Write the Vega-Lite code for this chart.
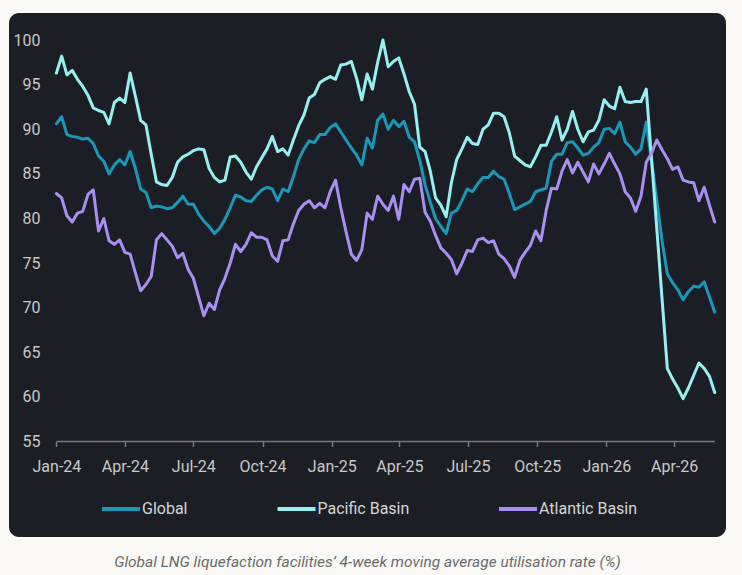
{
  "$schema": "https://vega.github.io/schema/vega-lite/v6.json",
  "width": 717,
  "height": 524,
  "autosize": {"type": "none"},
  "padding": {"left": 9, "top": 13, "right": 16, "bottom": 38},
  "background": "#faf9f6",
  "config": {
    "view": {"fill": "#1c1e25", "stroke": null, "cornerRadius": 10},
    "font": "Roboto",
    "axisX": {
      "title": null,
      "domain": false,
      "grid": false,
      "tickSize": 5,
      "tickColor": "#7a7a7a",
      "tickWidth": 1.5,
      "labelPadding": 11.5,
      "labelFontSize": 16,
      "labelColor": "#c8c8c8",
      "labelFont": "Roboto"
    },
    "axisY": {
      "title": null,
      "domain": false,
      "ticks": false,
      "grid": false,
      "labelPadding": 0,
      "labelFontSize": 16,
      "labelColor": "#c8c8c8",
      "labelFont": "Roboto"
    }
  },
  "title": {
    "text": "Global LNG liquefaction facilities’ 4-week moving average utilisation rate (%)",
    "orient": "bottom",
    "anchor": "middle",
    "offset": 18,
    "fontSize": 15.5,
    "fontStyle": "italic",
    "fontWeight": "normal",
    "color": "#6b6b6b",
    "font": "Roboto"
  },
  "datasets": {
    "axisline": [{"d": "2024-01-01", "e": "2026-05-25", "value": 55}],
    "util": [
      {"d": "2024-01-01", "Global": 90.6, "Pacific Basin": 96.3, "Atlantic Basin": 82.8},
      {"d": "2024-01-08", "Global": 91.4, "Pacific Basin": 98.2, "Atlantic Basin": 82.3},
      {"d": "2024-01-15", "Global": 89.4, "Pacific Basin": 96.1, "Atlantic Basin": 80.3},
      {"d": "2024-01-22", "Global": 89.2, "Pacific Basin": 96.6, "Atlantic Basin": 79.6},
      {"d": "2024-01-29", "Global": 89.1, "Pacific Basin": 95.6, "Atlantic Basin": 80.6},
      {"d": "2024-02-05", "Global": 88.9, "Pacific Basin": 94.8, "Atlantic Basin": 80.8},
      {"d": "2024-02-12", "Global": 89.0, "Pacific Basin": 93.8, "Atlantic Basin": 82.7},
      {"d": "2024-02-19", "Global": 88.4, "Pacific Basin": 92.4, "Atlantic Basin": 83.2},
      {"d": "2024-02-26", "Global": 87.0, "Pacific Basin": 92.1, "Atlantic Basin": 78.6},
      {"d": "2024-03-04", "Global": 86.4, "Pacific Basin": 91.9, "Atlantic Basin": 80.0},
      {"d": "2024-03-11", "Global": 85.0, "Pacific Basin": 90.6, "Atlantic Basin": 77.5},
      {"d": "2024-03-18", "Global": 86.0, "Pacific Basin": 93.0, "Atlantic Basin": 77.1},
      {"d": "2024-03-25", "Global": 86.6, "Pacific Basin": 93.5, "Atlantic Basin": 77.6},
      {"d": "2024-04-01", "Global": 86.0, "Pacific Basin": 93.0, "Atlantic Basin": 76.2},
      {"d": "2024-04-08", "Global": 87.5, "Pacific Basin": 96.3, "Atlantic Basin": 76.0},
      {"d": "2024-04-15", "Global": 85.6, "Pacific Basin": 93.7, "Atlantic Basin": 73.9},
      {"d": "2024-04-22", "Global": 83.3, "Pacific Basin": 91.0, "Atlantic Basin": 71.9},
      {"d": "2024-04-29", "Global": 82.9, "Pacific Basin": 90.5, "Atlantic Basin": 72.6},
      {"d": "2024-05-06", "Global": 81.2, "Pacific Basin": 87.2, "Atlantic Basin": 73.5},
      {"d": "2024-05-13", "Global": 81.4, "Pacific Basin": 84.1, "Atlantic Basin": 77.6},
      {"d": "2024-05-20", "Global": 81.3, "Pacific Basin": 83.8, "Atlantic Basin": 78.3},
      {"d": "2024-05-27", "Global": 81.1, "Pacific Basin": 83.7, "Atlantic Basin": 77.6},
      {"d": "2024-06-03", "Global": 81.2, "Pacific Basin": 84.6, "Atlantic Basin": 76.9},
      {"d": "2024-06-10", "Global": 81.8, "Pacific Basin": 86.3, "Atlantic Basin": 75.6},
      {"d": "2024-06-17", "Global": 82.5, "Pacific Basin": 86.9, "Atlantic Basin": 76.1},
      {"d": "2024-06-24", "Global": 81.6, "Pacific Basin": 87.2, "Atlantic Basin": 74.3},
      {"d": "2024-07-01", "Global": 81.6, "Pacific Basin": 87.6, "Atlantic Basin": 73.3},
      {"d": "2024-07-08", "Global": 80.5, "Pacific Basin": 87.8, "Atlantic Basin": 71.2},
      {"d": "2024-07-15", "Global": 79.7, "Pacific Basin": 87.7, "Atlantic Basin": 69.1},
      {"d": "2024-07-22", "Global": 79.1, "Pacific Basin": 85.6, "Atlantic Basin": 70.5},
      {"d": "2024-07-29", "Global": 78.3, "Pacific Basin": 84.6, "Atlantic Basin": 69.8},
      {"d": "2024-08-05", "Global": 78.9, "Pacific Basin": 84.1, "Atlantic Basin": 72.0},
      {"d": "2024-08-12", "Global": 79.9, "Pacific Basin": 84.3, "Atlantic Basin": 73.3},
      {"d": "2024-08-19", "Global": 81.2, "Pacific Basin": 86.9, "Atlantic Basin": 75.0},
      {"d": "2024-08-26", "Global": 82.6, "Pacific Basin": 87.0, "Atlantic Basin": 77.1},
      {"d": "2024-09-02", "Global": 82.4, "Pacific Basin": 86.3, "Atlantic Basin": 76.3},
      {"d": "2024-09-09", "Global": 82.0, "Pacific Basin": 85.2, "Atlantic Basin": 77.1},
      {"d": "2024-09-16", "Global": 81.9, "Pacific Basin": 84.4, "Atlantic Basin": 78.4},
      {"d": "2024-09-23", "Global": 82.6, "Pacific Basin": 85.8, "Atlantic Basin": 77.9},
      {"d": "2024-09-30", "Global": 83.2, "Pacific Basin": 86.8, "Atlantic Basin": 77.9},
      {"d": "2024-10-07", "Global": 83.5, "Pacific Basin": 87.8, "Atlantic Basin": 77.6},
      {"d": "2024-10-14", "Global": 83.3, "Pacific Basin": 89.2, "Atlantic Basin": 75.8},
      {"d": "2024-10-21", "Global": 82.0, "Pacific Basin": 87.5, "Atlantic Basin": 75.2},
      {"d": "2024-10-28", "Global": 83.3, "Pacific Basin": 87.8, "Atlantic Basin": 77.5},
      {"d": "2024-11-04", "Global": 83.0, "Pacific Basin": 87.1, "Atlantic Basin": 77.6},
      {"d": "2024-11-11", "Global": 84.7, "Pacific Basin": 88.8, "Atlantic Basin": 79.4},
      {"d": "2024-11-18", "Global": 86.6, "Pacific Basin": 90.4, "Atlantic Basin": 80.9},
      {"d": "2024-11-25", "Global": 87.8, "Pacific Basin": 91.6, "Atlantic Basin": 81.6},
      {"d": "2024-12-02", "Global": 88.7, "Pacific Basin": 93.5, "Atlantic Basin": 82.0},
      {"d": "2024-12-09", "Global": 88.5, "Pacific Basin": 93.9, "Atlantic Basin": 81.2},
      {"d": "2024-12-16", "Global": 89.4, "Pacific Basin": 95.2, "Atlantic Basin": 81.7},
      {"d": "2024-12-23", "Global": 89.4, "Pacific Basin": 95.6, "Atlantic Basin": 81.2},
      {"d": "2024-12-30", "Global": 90.2, "Pacific Basin": 95.9, "Atlantic Basin": 83.0},
      {"d": "2025-01-06", "Global": 90.6, "Pacific Basin": 95.6, "Atlantic Basin": 84.3},
      {"d": "2025-01-13", "Global": 89.7, "Pacific Basin": 97.2, "Atlantic Basin": 81.2},
      {"d": "2025-01-20", "Global": 88.8, "Pacific Basin": 97.3, "Atlantic Basin": 78.5},
      {"d": "2025-01-27", "Global": 87.9, "Pacific Basin": 97.6, "Atlantic Basin": 76.0},
      {"d": "2025-02-03", "Global": 87.1, "Pacific Basin": 95.7, "Atlantic Basin": 75.3},
      {"d": "2025-02-10", "Global": 86.0, "Pacific Basin": 93.3, "Atlantic Basin": 76.5},
      {"d": "2025-02-17", "Global": 89.0, "Pacific Basin": 96.2, "Atlantic Basin": 80.6},
      {"d": "2025-02-24", "Global": 87.9, "Pacific Basin": 94.5, "Atlantic Basin": 79.9},
      {"d": "2025-03-03", "Global": 91.0, "Pacific Basin": 97.5, "Atlantic Basin": 82.5},
      {"d": "2025-03-10", "Global": 91.7, "Pacific Basin": 100.0, "Atlantic Basin": 81.6},
      {"d": "2025-03-17", "Global": 90.0, "Pacific Basin": 97.0, "Atlantic Basin": 80.9},
      {"d": "2025-03-24", "Global": 91.0, "Pacific Basin": 97.6, "Atlantic Basin": 82.5},
      {"d": "2025-03-31", "Global": 90.3, "Pacific Basin": 98.0, "Atlantic Basin": 79.9},
      {"d": "2025-04-07", "Global": 90.9, "Pacific Basin": 96.2, "Atlantic Basin": 83.8},
      {"d": "2025-04-14", "Global": 89.1, "Pacific Basin": 94.2, "Atlantic Basin": 83.0},
      {"d": "2025-04-21", "Global": 88.6, "Pacific Basin": 92.8, "Atlantic Basin": 84.4},
      {"d": "2025-04-28", "Global": 86.5, "Pacific Basin": 88.0, "Atlantic Basin": 84.5},
      {"d": "2025-05-05", "Global": 83.8, "Pacific Basin": 87.5, "Atlantic Basin": 80.7},
      {"d": "2025-05-12", "Global": 81.8, "Pacific Basin": 85.3, "Atlantic Basin": 79.7},
      {"d": "2025-05-19", "Global": 80.0, "Pacific Basin": 82.3, "Atlantic Basin": 78.1},
      {"d": "2025-05-26", "Global": 79.1, "Pacific Basin": 81.5, "Atlantic Basin": 76.7},
      {"d": "2025-06-02", "Global": 78.3, "Pacific Basin": 80.2, "Atlantic Basin": 76.1},
      {"d": "2025-06-09", "Global": 80.6, "Pacific Basin": 84.0, "Atlantic Basin": 75.4},
      {"d": "2025-06-16", "Global": 80.9, "Pacific Basin": 86.6, "Atlantic Basin": 73.8},
      {"d": "2025-06-23", "Global": 82.0, "Pacific Basin": 87.8, "Atlantic Basin": 75.0},
      {"d": "2025-06-30", "Global": 83.3, "Pacific Basin": 89.1, "Atlantic Basin": 76.4},
      {"d": "2025-07-07", "Global": 83.0, "Pacific Basin": 88.4, "Atlantic Basin": 76.3},
      {"d": "2025-07-14", "Global": 83.9, "Pacific Basin": 88.3, "Atlantic Basin": 77.6},
      {"d": "2025-07-21", "Global": 84.6, "Pacific Basin": 90.0, "Atlantic Basin": 77.8},
      {"d": "2025-07-28", "Global": 84.6, "Pacific Basin": 90.5, "Atlantic Basin": 77.3},
      {"d": "2025-08-04", "Global": 85.3, "Pacific Basin": 91.8, "Atlantic Basin": 77.5},
      {"d": "2025-08-11", "Global": 84.7, "Pacific Basin": 91.8, "Atlantic Basin": 76.0},
      {"d": "2025-08-18", "Global": 84.4, "Pacific Basin": 91.4, "Atlantic Basin": 75.5},
      {"d": "2025-08-25", "Global": 82.8, "Pacific Basin": 89.6, "Atlantic Basin": 74.7},
      {"d": "2025-09-01", "Global": 81.0, "Pacific Basin": 87.0, "Atlantic Basin": 73.4},
      {"d": "2025-09-08", "Global": 81.3, "Pacific Basin": 86.5, "Atlantic Basin": 75.3},
      {"d": "2025-09-15", "Global": 81.6, "Pacific Basin": 86.0, "Atlantic Basin": 76.2},
      {"d": "2025-09-22", "Global": 81.9, "Pacific Basin": 85.8, "Atlantic Basin": 77.0},
      {"d": "2025-09-29", "Global": 83.0, "Pacific Basin": 86.9, "Atlantic Basin": 78.6},
      {"d": "2025-10-06", "Global": 83.2, "Pacific Basin": 88.2, "Atlantic Basin": 77.5},
      {"d": "2025-10-13", "Global": 83.4, "Pacific Basin": 88.2, "Atlantic Basin": 80.9},
      {"d": "2025-10-20", "Global": 86.4, "Pacific Basin": 89.7, "Atlantic Basin": 83.4},
      {"d": "2025-10-27", "Global": 87.2, "Pacific Basin": 91.4, "Atlantic Basin": 83.3},
      {"d": "2025-11-03", "Global": 87.2, "Pacific Basin": 88.8, "Atlantic Basin": 85.3},
      {"d": "2025-11-10", "Global": 88.5, "Pacific Basin": 90.0, "Atlantic Basin": 86.6},
      {"d": "2025-11-17", "Global": 88.6, "Pacific Basin": 92.0, "Atlantic Basin": 85.1},
      {"d": "2025-11-24", "Global": 87.9, "Pacific Basin": 90.0, "Atlantic Basin": 86.3},
      {"d": "2025-12-01", "Global": 87.1, "Pacific Basin": 88.6, "Atlantic Basin": 85.2},
      {"d": "2025-12-08", "Global": 87.3, "Pacific Basin": 89.7, "Atlantic Basin": 84.1},
      {"d": "2025-12-15", "Global": 88.0, "Pacific Basin": 89.9, "Atlantic Basin": 86.1},
      {"d": "2025-12-22", "Global": 88.5, "Pacific Basin": 91.0, "Atlantic Basin": 85.0},
      {"d": "2025-12-29", "Global": 90.0, "Pacific Basin": 93.3, "Atlantic Basin": 86.1},
      {"d": "2026-01-05", "Global": 90.1, "Pacific Basin": 92.6, "Atlantic Basin": 87.3},
      {"d": "2026-01-12", "Global": 89.5, "Pacific Basin": 92.3, "Atlantic Basin": 86.1},
      {"d": "2026-01-19", "Global": 90.8, "Pacific Basin": 94.7, "Atlantic Basin": 85.0},
      {"d": "2026-01-26", "Global": 88.6, "Pacific Basin": 93.1, "Atlantic Basin": 83.0},
      {"d": "2026-02-02", "Global": 88.0, "Pacific Basin": 93.0, "Atlantic Basin": 82.3},
      {"d": "2026-02-09", "Global": 87.2, "Pacific Basin": 93.1, "Atlantic Basin": 80.8},
      {"d": "2026-02-16", "Global": 87.8, "Pacific Basin": 93.1, "Atlantic Basin": 82.5},
      {"d": "2026-02-23", "Global": 90.8, "Pacific Basin": 94.5, "Atlantic Basin": 86.3},
      {"d": "2026-03-02", "Global": 86.5, "Pacific Basin": 86.7, "Atlantic Basin": 87.3},
      {"d": "2026-03-09", "Global": 82.0, "Pacific Basin": 78.9, "Atlantic Basin": 88.8},
      {"d": "2026-03-16", "Global": 77.5, "Pacific Basin": 71.0, "Atlantic Basin": 87.7},
      {"d": "2026-03-23", "Global": 73.8, "Pacific Basin": 63.2, "Atlantic Basin": 86.7},
      {"d": "2026-03-30", "Global": 72.8, "Pacific Basin": 62.0, "Atlantic Basin": 85.5},
      {"d": "2026-04-06", "Global": 72.0, "Pacific Basin": 61.0, "Atlantic Basin": 85.8},
      {"d": "2026-04-13", "Global": 70.9, "Pacific Basin": 59.8, "Atlantic Basin": 84.3},
      {"d": "2026-04-20", "Global": 71.8, "Pacific Basin": 61.0, "Atlantic Basin": 84.1},
      {"d": "2026-04-27", "Global": 72.4, "Pacific Basin": 62.4, "Atlantic Basin": 84.0},
      {"d": "2026-05-04", "Global": 72.3, "Pacific Basin": 63.8, "Atlantic Basin": 82.0},
      {"d": "2026-05-11", "Global": 72.9, "Pacific Basin": 63.2, "Atlantic Basin": 83.5},
      {"d": "2026-05-18", "Global": 71.2, "Pacific Basin": 62.3, "Atlantic Basin": 81.5},
      {"d": "2026-05-25", "Global": 69.5, "Pacific Basin": 60.5, "Atlantic Basin": 79.6}
    ]
  },
  "encoding": {
    "x": {
      "field": "d",
      "type": "temporal",
      "scale": {"type": "utc", "domain": [{"year": 2023, "month": 10, "date": 30, "utc": true}, {"year": 2026, "month": 6, "date": 9, "utc": true}], "nice": false},
      "axis": {
        "values": [
          {"year": 2024, "month": 1, "date": 1, "utc": true},
          {"year": 2024, "month": 4, "date": 1, "utc": true},
          {"year": 2024, "month": 7, "date": 1, "utc": true},
          {"year": 2024, "month": 10, "date": 1, "utc": true},
          {"year": 2025, "month": 1, "date": 1, "utc": true},
          {"year": 2025, "month": 4, "date": 1, "utc": true},
          {"year": 2025, "month": 7, "date": 1, "utc": true},
          {"year": 2025, "month": 10, "date": 1, "utc": true},
          {"year": 2026, "month": 1, "date": 1, "utc": true},
          {"year": 2026, "month": 4, "date": 1, "utc": true}
        ],
        "labelExpr": "utcFormat(datum.value, '%b-%y')",
        "offset": -95.5
      }
    },
    "y": {
      "field": "value",
      "type": "quantitative",
      "scale": {"domain": [44.3, 103.03], "nice": false, "zero": false},
      "axis": {
        "values": [55, 60, 65, 70, 75, 80, 85, 90, 95, 100],
        "offset": -31
      }
    }
  },
  "layer": [
    {
      "data": {"name": "util"},
      "transform": [{"fold": ["Global", "Pacific Basin", "Atlantic Basin"], "as": ["series", "value"]}],
      "mark": {"type": "line", "strokeWidth": 3, "strokeJoin": "round", "strokeCap": "round"},
      "encoding": {
        "color": {
          "field": "series",
          "type": "nominal",
          "scale": {"domain": ["Global", "Pacific Basin", "Atlantic Basin"], "range": ["#1b97b7", "#96f0f0", "#a88ff2"]},
          "legend": {
            "title": null,
            "orient": "none",
            "legendX": 91,
            "legendY": 475,
            "direction": "horizontal",
            "symbolType": "stroke",
            "symbolSize": 1444,
            "symbolStrokeWidth": 4,
            "labelFontSize": 16,
            "labelColor": "#d6d6d6",
            "labelFont": "Roboto",
            "labelOffset": 0,
            "columnPadding": 81.5,
            "padding": 0
          }
        }
      }
    },
    {
      "data": {"name": "axisline"},
      "mark": {"type": "rule", "color": "#7a7a7a", "strokeWidth": 1.5},
      "encoding": {
        "x2": {"field": "e"}
      }
    }
  ]
}
